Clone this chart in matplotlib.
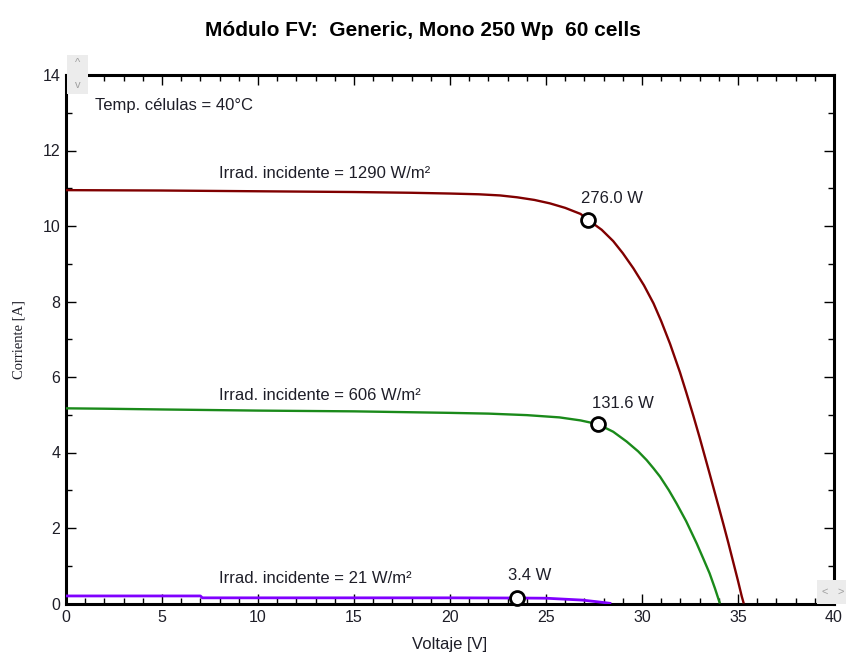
import matplotlib
matplotlib.use("Agg")
import matplotlib.pyplot as plt
from matplotlib.ticker import MultipleLocator
from matplotlib.patches import Rectangle

plt.rcParams['font.family'] = ['Liberation Sans', 'DejaVu Sans']

# ---- data ----
v_1290 = [0, 5, 10, 15, 18, 20, 21.5, 22.6, 23.5, 24.4, 25.2, 26.0, 26.8, 27.2, 27.9,
          28.5, 29.0, 29.55, 30.1, 30.6, 31.0, 31.46, 31.98, 32.3, 32.67, 33.0, 33.5,
          34.0, 34.24, 34.5, 34.76, 35.0, 35.2, 35.3]
i_1290 = [10.95, 10.94, 10.92, 10.90, 10.88, 10.86, 10.84, 10.81, 10.76, 10.69, 10.60,
          10.48, 10.32, 10.16, 9.90, 9.60, 9.28, 8.88, 8.43, 7.95, 7.48, 6.88, 6.12, 5.60,
          4.98, 4.40, 3.48, 2.55, 2.10, 1.60, 1.08, 0.60, 0.18, 0.0]

v_606 = [0, 2, 5, 10, 15, 20, 22, 24, 25.7, 26.8, 27.7, 28.5, 29.2, 29.8, 30.24, 30.6,
         30.94, 31.4, 31.8, 32.3, 32.85, 33.2, 33.52, 33.8, 34.0, 34.06]
i_606 = [5.17, 5.16, 5.14, 5.11, 5.09, 5.05, 5.03, 4.99, 4.93, 4.85, 4.75, 4.55, 4.29,
         4.03, 3.80, 3.58, 3.36, 3.00, 2.65, 2.18, 1.59, 1.18, 0.80, 0.40, 0.09, 0.0]

v_21 = [0, 5, 7.0, 7.1, 10, 15, 20, 23.47, 25.0, 26.9, 27.6, 28.1, 28.4]
i_21 = [0.20, 0.20, 0.20, 0.15, 0.15, 0.15, 0.15, 0.145, 0.14, 0.09, 0.05, 0.02, 0.0]

mpp_v = [27.2, 27.7, 23.47]
mpp_i = [10.16, 4.75, 0.145]
mpp_labels = ["276.0 W", "131.6 W", "3.4 W"]
irrad_labels = ["Irrad. incidente = 1290 W/m²", "Irrad. incidente = 606 W/m²",
                "Irrad. incidente = 21 W/m²"]
colors = ["#800000", "#1a8a1a", "#8000ff"]

x_ticks = [0, 5, 10, 15, 20, 25, 30, 35, 40]
y_ticks = [0, 2, 4, 6, 8, 10, 12, 14]

TXT = '#1e1e28'

fig = plt.figure(figsize=(8.46, 6.52), dpi=100)
ax = fig.add_axes([66/846, 1-603.5/652, (834-66)/846, (603.5-75)/652])

curves = [(v_1290, i_1290), (v_606, i_606), (v_21, i_21)]
widths = [1.7, 1.7, 2.0]
for (v, i), c, w in zip(curves, colors, widths):
    ax.plot(v, i, color=c, lw=w, solid_capstyle='butt', solid_joinstyle='round', zorder=3)

ax.plot(mpp_v, mpp_i, linestyle='none', marker='o', ms=10, mfc='white', mec='black',
        mew=2, zorder=5, clip_on=False)

# labels
irr_pos = [(7.97, 11.4), (7.97, 5.5), (7.97, 0.65)]
for (x, y), t in zip(irr_pos, irrad_labels):
    ax.text(x, y, t, fontsize=12, color=TXT, ha='left', va='center')
pw_pos = [(26.8, 10.74), (27.4, 5.31), (23.0, 0.73)]
for (x, y), t in zip(pw_pos, mpp_labels):
    ax.text(x, y, t, fontsize=12, color=TXT, ha='left', va='center')
ax.text(1.5, 13.2, "Temp. células = 40°C", fontsize=12, color=TXT,
        ha='left', va='center')

ax.set_xlim(0, 40)
ax.set_ylim(0, 14)
ax.set_xticks(x_ticks)
ax.set_yticks(y_ticks)
ax.xaxis.set_minor_locator(MultipleLocator(1))
ax.yaxis.set_minor_locator(MultipleLocator(1))
ax.tick_params(which='both', direction='in', top=True, right=True, colors='black',
               labelsize=11.5, labelcolor=TXT)
ax.tick_params(which='major', length=7, width=1)
ax.tick_params(which='minor', length=4, width=1)
ax.tick_params(axis='x', pad=5)
ax.tick_params(axis='y', pad=4)
for s in ax.spines.values():
    s.set_linewidth(2.2)

ax.set_xlabel("Voltaje [V]", fontsize=12, color=TXT, labelpad=8)
ax.set_ylabel("Corriente [A]", fontsize=10.5, family='Liberation Serif', color=TXT,
              labelpad=12)

fig.text(0.5, 1-30/652, "Módulo FV:  Generic, Mono 250 Wp  60 cells", ha='center',
         va='center', fontsize=15, fontweight='bold', color='black')

# scroll widget boxes (UI artefacts in the reference)
fig.patches.append(Rectangle((67/846, 1-94/652), 21/846, 39/652, transform=fig.transFigure,
                             facecolor='#ececec', edgecolor='none', zorder=0))
fig.text(77.5/846, 1-63/652, "^", ha='center', va='center', fontsize=8, color='#a0a0a0')
fig.text(77.5/846, 1-85/652, "v", ha='center', va='center', fontsize=8, color='#a0a0a0')
fig.patches.append(Rectangle((817/846, 1-604/652), 29/846, 24/652, transform=fig.transFigure,
                             facecolor='#ececec', edgecolor='none', zorder=0))
fig.text(825/846, 1-592/652, "<", ha='center', va='center', fontsize=8, color='#a0a0a0')
fig.text(841/846, 1-592/652, ">", ha='center', va='center', fontsize=8, color='#a0a0a0')

fig.savefig("out.png", dpi=100, facecolor='white')
